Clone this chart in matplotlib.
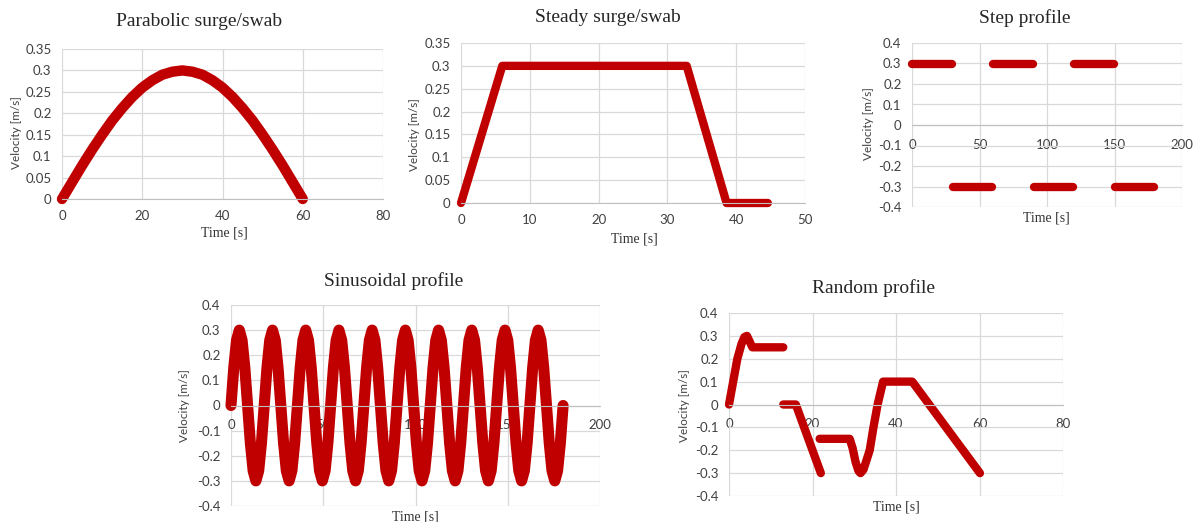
import numpy as np
import matplotlib
matplotlib.use("Agg")
import matplotlib.pyplot as plt
from matplotlib.ticker import MultipleLocator, FuncFormatter

# ---- data ----
parabolic_t = [0, 2.5, 5, 7.5, 10, 12.5, 15, 17.5, 20, 22.5, 25, 27.5, 30,
               32.5, 35, 37.5, 40, 42.5, 45, 47.5, 50, 52.5, 55, 57.5, 60]
parabolic_v = [0, 0.039, 0.078, 0.115, 0.15, 0.183, 0.212, 0.238, 0.26, 0.277,
               0.29, 0.297, 0.30, 0.297, 0.29, 0.277, 0.26, 0.238, 0.212,
               0.183, 0.15, 0.115, 0.078, 0.039, 0]

steady_t = [0, 6, 32.8, 38.6, 44.6]
steady_v = [0, 0.3, 0.3, 0, 0]

step_start = [0, 30, 60, 90, 120, 150]
step_end = [29.5, 59.5, 89.5, 119.5, 149.5, 179.5]
step_level = [0.3, -0.3, 0.3, -0.3, 0.3, -0.3]

# one period (18 s) sampled every 1.5 s, repeated 10 times
sine_cycle = [0, 0.15, 0.26, 0.30, 0.26, 0.15, 0, -0.15, -0.26, -0.30, -0.26, -0.15]
sine_dt = 1.5
sine_cycles = 10

random_t1 = [0, 1, 2, 3, 3.7, 4.3, 5.6, 13]
random_v1 = [0, 0.1, 0.2, 0.265, 0.295, 0.3, 0.25, 0.25]
random_t2 = [13, 16, 22]
random_v2 = [0, 0, -0.3]
random_t3 = [21.7, 28.9, 29.6, 30.3, 31.0, 31.5, 32.2, 33.0, 33.7, 34.6, 35.6,
             36.9, 43.9, 60.1]
random_v3 = [-0.15, -0.15, -0.19, -0.25, -0.29, -0.30, -0.285, -0.24, -0.2,
             -0.1, 0, 0.1, 0.1, -0.3]

RED = "#c00000"
GRID = "#d9d9d9"
TICK = "#404040"
SANS = "Lato"
SERIF = "Liberation Serif"


def fmt(v, pos):
    return "{:g}".format(round(v, 2))


def style(ax, xmax, xstep, ymin, ymax, ystep, pad):
    ax.set_xlim(0, xmax)
    ax.set_ylim(ymin, ymax)
    ax.xaxis.set_major_locator(MultipleLocator(xstep))
    ax.yaxis.set_major_locator(MultipleLocator(ystep))
    ax.xaxis.set_major_formatter(FuncFormatter(fmt))
    ax.yaxis.set_major_formatter(FuncFormatter(fmt))
    ax.grid(True, color=GRID, lw=0.9)
    ax.set_axisbelow(True)
    for s in ax.spines.values():
        s.set_visible(False)
    ax.spines["bottom"].set_visible(True)
    ax.spines["bottom"].set_color("#bfbfbf")
    ax.spines["bottom"].set_position(("data", 0))
    ax.tick_params(length=0, labelsize=9.5, labelcolor=TICK)
    ax.tick_params(axis="y", pad=7.5)
    ax.tick_params(axis="x", pad=pad)
    for lab in ax.get_xticklabels() + ax.get_yticklabels():
        lab.set_fontfamily(SANS)


fig = plt.figure(figsize=(12, 5.22), dpi=100)
W, H = 1200.0, 522.0


def add_ax(left, top, right, bottom):
    return fig.add_axes([left / W, 1 - bottom / H, (right - left) / W, (bottom - top) / H])


def labels(title, tx, ty, xx, xy, yx, yy):
    fig.text(tx / W, 1 - ty / H, title, ha="center", va="center",
             fontsize=14, family=SERIF, color="#262626")
    fig.text(xx / W, 1 - xy / H, "Time [s]", ha="center", va="center",
             fontsize=10, family=SERIF, color="#333333")
    fig.text(yx / W, 1 - yy / H, "Velocity [m/s]", ha="center", va="center",
             rotation=90, fontsize=8.5, family=SANS, color=TICK)


# Parabolic
ax1 = add_ax(62, 49, 383, 199)
ax1.plot(parabolic_t, parabolic_v, color=RED, lw=7.5, solid_capstyle="round",
         solid_joinstyle="round", clip_on=False)
style(ax1, 80, 20, 0, 0.35, 0.05, 8)
labels("Parabolic surge/swab", 199, 22, 224, 233, 17, 133)

# Steady
ax2 = add_ax(461, 43, 805, 203)
ax2.plot(steady_t, steady_v, color=RED, lw=6, solid_capstyle="round",
         solid_joinstyle="round", clip_on=False)
style(ax2, 50, 10, 0, 0.35, 0.05, 8)
labels("Steady surge/swab", 608, 17, 634, 239, 415, 135)

# Step
ax3 = add_ax(912, 43, 1182, 207)
for s, e, lv in zip(step_start, step_end, step_level):
    ax3.plot([s, e], [lv, lv], color=RED, lw=6, solid_capstyle="round", clip_on=False)
style(ax3, 200, 50, -0.4, 0.4, 0.1, 10)
labels("Step profile", 1025, 18, 1046, 218, 868, 124)

# Sinusoidal
sine_v = list(np.tile(sine_cycle, sine_cycles)) + [0]
sine_t = np.arange(len(sine_v)) * sine_dt
ax4 = add_ax(231, 305, 600, 506)
ax4.plot(sine_t, sine_v, color=RED, lw=8, solid_capstyle="round",
         solid_joinstyle="round", clip_on=False)
style(ax4, 200, 50, -0.4, 0.4, 0.1, 10)
labels("Sinusoidal profile", 394, 281, 415, 517, 185, 406)

# Random
ax5 = add_ax(729, 313, 1063, 496)
for t, v in [(random_t1, random_v1), (random_t2, random_v2), (random_t3, random_v3)]:
    ax5.plot(t, v, color=RED, lw=6, solid_capstyle="round",
             solid_joinstyle="round", clip_on=False)
style(ax5, 80, 20, -0.4, 0.4, 0.1, 10)
labels("Random profile", 873, 288, 896, 507, 685, 406)

fig.savefig("out.png", dpi=100, facecolor="white")
